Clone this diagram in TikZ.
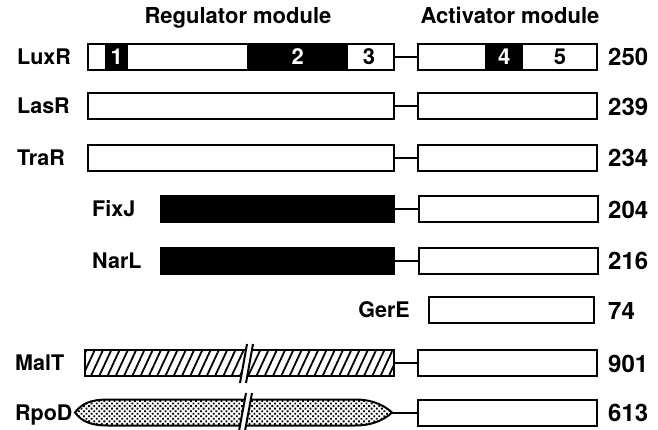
\documentclass[tikz,border=0pt]{standalone}
\usepackage{fontspec}
\setmainfont{TeX Gyre Heros}
\usetikzlibrary{positioning,patterns.meta}

\begin{document}
\begin{tikzpicture}[x=1pt,y=-1pt,
  title/.style={font=\fontsize{22}{22}\selectfont\bfseries,inner sep=0pt,anchor=base},
  lbl/.style={font=\fontsize{21.5}{21.5}\selectfont\bfseries,inner sep=0pt,anchor=base west},
  num/.style={font=\fontsize{24}{24}\selectfont\bfseries,inner sep=0pt,anchor=base west},
  bar/.style={draw,line width=2pt,minimum height=26pt,inner sep=0pt,anchor=west},
  seg/.style={fill=black,text=white,minimum height=26pt,inner sep=0pt,anchor=west,
    font=\fontsize{22}{22}\selectfont\bfseries},
  digit/.style={font=\fontsize{22}{22}\selectfont\bfseries,inner sep=0pt},
  link/.style={line width=2pt},
  hatch/.style={pattern={Lines[angle=65,distance=7.5pt,line width=1.8pt]}},
  stipple/.style={pattern={Dots[radius=1.3pt,distance=3.6pt,angle=45]}}
]
\useasboundingbox (0,0) rectangle (658,429);

% headings
\node[title] (regtitle) at (238,23) {Regulator module};
\node[title] (acttitle) at (510,23) {Activator module};

% LuxR
\node[bar,minimum width=306pt] (luxr-reg) at (87,56.5) {};
\node[seg,minimum width=23pt] (luxr-d1) at (105,56.5) {1};
\node[seg,minimum width=101pt] (luxr-d2) at (247,56.5) {2};
\node[digit] (luxr-d3) at (369,56.5) {3};
\node[bar,minimum width=179pt] (luxr-act) at (417,56.5) {};
\node[seg,minimum width=38pt] (luxr-d4) at (485,56.5) {4};
\node[digit] (luxr-d5) at (560,56.5) {5};
\draw[link] (luxr-reg) -- (luxr-act);
\node[lbl] (luxr) at (17,64) {LuxR};
\node[num] (luxr-len) at (608,65.5) {250};

% LasR
\node[bar,minimum width=306pt] (lasr-reg) at (87,106) {};
\node[bar,minimum width=179pt] (lasr-act) at (417,106) {};
\draw[link] (lasr-reg) -- (lasr-act);
\node[lbl] (lasr) at (17,113.5) {LasR};
\node[num] (lasr-len) at (608,115) {239};

% TraR
\node[bar,minimum width=306pt] (trar-reg) at (87,157.5) {};
\node[bar,minimum width=179pt] (trar-act) at (417,157.5) {};
\draw[link] (trar-reg) -- (trar-act);
\node[lbl] (trar) at (17,165) {TraR};
\node[num] (trar-len) at (608,166.5) {234};

% FixJ
\node[bar,fill=black,minimum width=233pt] (fixj-reg) at (160,209) {};
\node[bar,minimum width=179pt] (fixj-act) at (418,209) {};
\draw[link] (fixj-reg) -- (fixj-act);
\node[lbl] (fixj) at (92,216.5) {FixJ};
\node[num] (fixj-len) at (608,218) {204};

% NarL
\node[bar,fill=black,minimum width=233pt] (narl-reg) at (160,260.5) {};
\node[bar,minimum width=179pt] (narl-act) at (418,260.5) {};
\draw[link] (narl-reg) -- (narl-act);
\node[lbl] (narl) at (92,268) {NarL};
\node[num] (narl-len) at (608,269.5) {216};

% GerE
\node[bar,minimum width=165pt] (gere-act) at (428,310) {};
\node[lbl,anchor=base east] (gere) at (410,317.5) {GerE};
\node[num] (gere-len) at (608,319) {74};

% MalT
\node[bar,hatch,minimum width=309pt] (malt-reg) at (84,363) {};
\fill[white] (240,383) -- (247,344) -- (253,344) -- (246,383) -- cycle;
\draw[link] (240,383) -- (247,344);
\draw[link] (246,383) -- (253,344);
\node[bar,minimum width=179pt] (malt-act) at (417,363) {};
\draw[link] (malt-reg) -- (malt-act);
\node[lbl] (malt) at (15,370.5) {MalT};
\node[num] (malt-len) at (608,372) {901};

% RpoD
\draw[link,stipple] (75,412.5) .. controls (82,403) and (92,399.5) .. (108,399.5)
  -- (355,399.5) .. controls (375,399.5) and (386,407) .. (392,412.5)
  .. controls (386,418) and (375,425.5) .. (355,425.5)
  -- (108,425.5) .. controls (92,425.5) and (82,422) .. (75,412.5) -- cycle;
\coordinate (rpod-tip) at (392,412.5);
\fill[white] (239,431) -- (246,393) -- (252,393) -- (245,431) -- cycle;
\draw[link] (239,431) -- (246,393);
\draw[link] (245,431) -- (252,393);
\node[bar,minimum width=179pt] (rpod-act) at (417,412.5) {};
\draw[link] (rpod-tip) -- (rpod-act);
\node[lbl] (rpod) at (15,420) {RpoD};
\node[num] (rpod-len) at (608,421.5) {613};
\end{tikzpicture}
\end{document}
